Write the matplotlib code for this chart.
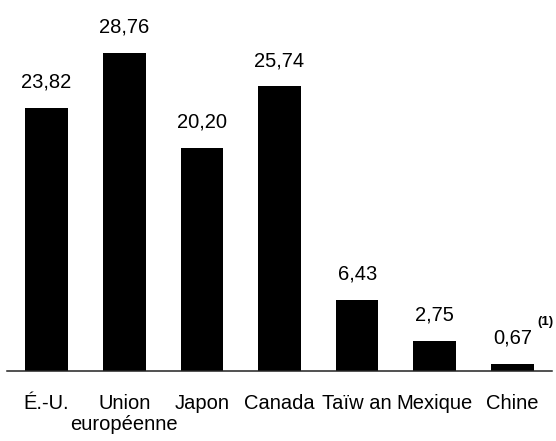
import matplotlib
matplotlib.use("Agg")
import matplotlib.pyplot as plt

categories = ["É.-U.", "Union\neuropéenne", "Japon", "Canada", "Taïw an", "Mexique", "Chine"]
values = [23.82, 28.76, 20.20, 25.74, 6.43, 2.75, 0.67]
value_labels = ["23,82", "28,76", "20,20", "25,74", "6,43", "2,75", "0,67"]
note = "(1)"

plt.rcParams['font.family'] = ['Liberation Sans', 'DejaVu Sans']

fig = plt.figure(figsize=(5.56, 4.41), dpi=100)
ax = fig.add_axes([7/556, 70/441, 545/556, 365/441])

x = range(len(categories))
ax.bar(x, values, width=0.55, color="black")

for ii in range(len(values)):
    ax.annotate(value_labels[ii], (ii, values[ii]), xytext=(0, 14.5),
                textcoords="offset points", ha="center", va="baseline", fontsize=14.5)

# footnote marker on the last bar
ax.annotate(note, (len(values)-1, values[-1]), xytext=(17.8, 27.5),
            textcoords="offset points", ha="left", va="baseline",
            fontsize=9.5, fontweight="bold")

ax.set_xlim(-0.51, 6.51)
ax.set_ylim(0, 365/11.057)
ax.set_xticks(list(x))
ax.set_xticklabels(categories, fontsize=14.5, linespacing=1.12)
ax.tick_params(axis="x", length=0, pad=16.5)
ax.set_yticks([])

for s in ["top", "right", "left"]:
    ax.spines[s].set_visible(False)
ax.spines["bottom"].set_linewidth(1.1)
ax.spines["bottom"].set_color("#222222")

fig.savefig("out.png", dpi=100)
